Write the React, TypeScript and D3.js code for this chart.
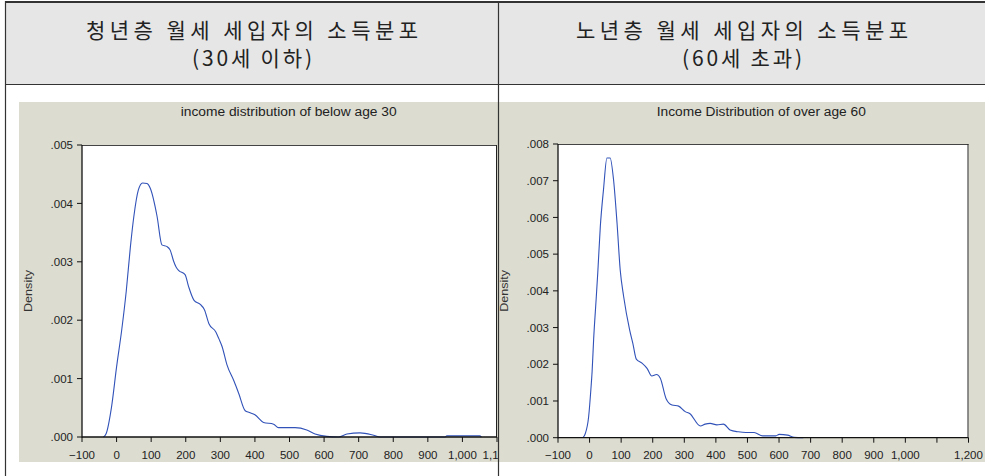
import React from "react";
import * as d3 from "d3";

// ---------- data ----------
const youngIncome = [-38, -30, -15, 0, 15, 28, 40, 50, 63, 75, 88, 98, 117, 131, 146, 155, 165, 172, 180, 198, 208, 224, 242, 254, 267, 287, 296, 305, 319, 340, 353, 372, 384, 400, 425, 454, 468, 516, 550, 574, 608, 642, 666, 704, 743, 762, 950, 955, 1050, 1055];
const youngDensity = [0, 0.00006, 0.0005, 0.0012, 0.00184, 0.0025, 0.00326, 0.00378, 0.00423, 0.00435, 0.00434, 0.00425, 0.00378, 0.00329, 0.00326, 0.0032, 0.00301, 0.00291, 0.00285, 0.00278, 0.00258, 0.00234, 0.00227, 0.00218, 0.00194, 0.0018, 0.00168, 0.00155, 0.00124, 0.00095, 0.00075, 0.00045, 0.00042, 0.00038, 0.00025, 0.00022, 0.00016, 0.00016, 0.00012, 0.00005, 0.00001, 0, 0.00005, 0.00007, 0.00003, 0, 0, 0.00002, 0.00002, 0];

const oldIncome = [-21, -14, -3, 4, 8, 13, 21, 26, 34, 44, 55, 65, 76, 87, 97, 108, 127, 137, 148, 166, 182, 197, 212, 224, 242, 261, 282, 303, 317, 351, 366, 382, 403, 424, 445, 471, 495, 521, 548, 590, 600, 627, 648, 677];
const oldDensity = [0, 0.0001, 0.00057, 0.0013, 0.0018, 0.0027, 0.0038, 0.0045, 0.00575, 0.00675, 0.00762, 0.00762, 0.00702, 0.00584, 0.00457, 0.00384, 0.00293, 0.00257, 0.00214, 0.00203, 0.00189, 0.00168, 0.00172, 0.00162, 0.00107, 0.00089, 0.00086, 0.00071, 0.00066, 0.00032, 0.00037, 0.00039, 0.00035, 0.00037, 0.00021, 0.00016, 0.00014, 0.00014, 0.00005, 0.00005, 0.00009, 0.00007, 0.00001, 0];

const youngXTicks = [-100, 0, 100, 200, 300, 400, 500, 600, 700, 800, 900, 1000, 1100];
const youngYTicks = [0, 0.001, 0.002, 0.003, 0.004, 0.005];
const oldXTicks = [-100, 0, 100, 200, 300, 400, 500, 600, 700, 800, 900, 1000, 1100, 1200];
const oldXHiddenLabels = [1100];
const oldYTicks = [0, 0.001, 0.002, 0.003, 0.004, 0.005, 0.006, 0.007, 0.008];

const headerLine1 = ["청년층 월세 세입자의 소득분포", "노년층 월세 세입자의 소득분포"];
const headerLine2 = ["(30세 이하)", "(60세 초과)"];
const chartTitles = ["income distribution of below age 30", "Income Distribution of over age 60"];
const yAxisLabel = "Density";

// ---------- chart ----------
const fmtX = d3.format(",");
const fmtY = (v: number) => d3.format(".3f")(v).replace(/^0/, "");
const tickFont = "'Liberation Sans', Arial, sans-serif";

type ChartProps = {
  id: string;
  panel: { x: number; y: number; w: number; h: number };
  plot: { l: number; t: number; r: number; b: number };
  xDomain: [number, number];
  yDomain: [number, number];
  xTicks: number[];
  hidden: number[];
  yTicks: number[];
  title: string;
  titleX: number;
  titleLen: number;
  densX: number;
  xs: number[];
  ys: number[];
  clipRight: number;
};

function Chart(p: ChartProps) {
  const x = d3.scaleLinear().domain(p.xDomain).range([p.plot.l, p.plot.r]);
  const y = d3.scaleLinear().domain(p.yDomain).range([p.plot.b, p.plot.t]);
  const pts = p.xs.map((v, i) => [v, p.ys[i]] as [number, number]);
  const line = d3
    .line<[number, number]>()
    .x((d) => x(d[0]))
    .y((d) => y(d[1]))
    .curve(d3.curveMonotoneX);
  const cy = (p.plot.t + p.plot.b) / 2;
  return (
    <g clipPath={`url(#${p.id})`}>
      <defs>
        <clipPath id={p.id}>
          <rect x={p.panel.x} y={p.panel.y} width={p.clipRight - p.panel.x} height={p.panel.h} />
        </clipPath>
      </defs>
      <rect x={p.panel.x} y={p.panel.y} width={p.panel.w} height={p.panel.h} fill="#dcdcd0" />
      <text
        x={p.titleX}
        y={116}
        textAnchor="middle"
        fontFamily={tickFont}
        fontSize={12}
        fill="#222"
        textLength={p.titleLen}
        lengthAdjust="spacingAndGlyphs"
      >
        {p.title}
      </text>
      <text
        transform={`translate(${p.densX},${cy}) rotate(-90)`}
        textAnchor="middle"
        fontFamily={tickFont}
        fontSize={11.5}
        fill="#333"
        textLength={42}
        lengthAdjust="spacingAndGlyphs"
      >
        {yAxisLabel}
      </text>
      <rect x={p.plot.l} y={p.plot.t} width={p.plot.r - p.plot.l} height={p.plot.b - p.plot.t} fill="#fff" />
      <path d={line(pts) || ""} fill="none" stroke="#3152b8" strokeWidth={1.1} />
      {/* frame */}
      <line x1={p.plot.l} x2={p.plot.r} y1={p.plot.t + 0.5} y2={p.plot.t + 0.5} stroke="#444" strokeWidth={1} />
      <line x1={p.plot.r - 0.5} x2={p.plot.r - 0.5} y1={p.plot.t} y2={p.plot.b} stroke="#222" strokeWidth={1} />
      <line x1={p.plot.l} x2={p.plot.l} y1={p.plot.t} y2={p.plot.b + 0.5} stroke="#111" strokeWidth={1.3} />
      <line x1={p.plot.l} x2={p.plot.r} y1={p.plot.b} y2={p.plot.b} stroke="#111" strokeWidth={1.3} />
      {/* y ticks */}
      {p.yTicks.map((t) => (
        <g key={"y" + t}>
          <line x1={p.plot.l - 5} x2={p.plot.l} y1={y(t)} y2={y(t)} stroke="#111" strokeWidth={1} />
          <text
            x={p.plot.l - 9}
            y={y(t)}
            dy="0.36em"
            textAnchor="end"
            fontFamily={tickFont}
            fontSize={11.5}
            fill="#222"
          >
            {fmtY(t)}
          </text>
        </g>
      ))}
      {/* x ticks */}
      {p.xTicks.map((t) => (
        <g key={"x" + t}>
          <line x1={x(t)} x2={x(t)} y1={p.plot.b} y2={p.plot.b + 5} stroke="#111" strokeWidth={1} />
          {p.hidden.indexOf(t) < 0 && (
            <text
              x={x(t)}
              y={p.plot.b + 21.5}
              textAnchor="middle"
              fontFamily={tickFont}
              fontSize={11.5}
              fill="#222"
            >
              {fmtX(t)}
            </text>
          )}
        </g>
      ))}
    </g>
  );
}

export default function App() {
  const W = 985;
  const H = 476;
  const headerFont = "'Noto Sans CJK KR', 'Noto Sans CJK SC', sans-serif";
  const cellCenters = [252, 742];
  const line1Len = 332;
  const line2Len = 120;
  return (
    <svg
      width={W}
      height={H}
      style={{ position: "absolute", left: 0, top: 0, background: "#fff" }}
    >
      <rect x={0} y={0} width={W} height={H} fill="#fff" />
      {/* header */}
      <rect x={6} y={2} width={990} height={82} fill="#e6e6e6" />
      {headerLine1.map((t, i) => (
        <text
          key={"h1" + i}
          x={cellCenters[i]}
          y={38}
          textAnchor="middle"
          fontFamily={headerFont}
          fontSize={21}
          fill="#222"
          textLength={line1Len}
          lengthAdjust="spacing"
        >
          {t}
        </text>
      ))}
      {headerLine2.map((t, i) => (
        <text
          key={"h2" + i}
          x={cellCenters[i]}
          y={66}
          textAnchor="middle"
          fontFamily={headerFont}
          fontSize={21}
          fill="#222"
          textLength={line2Len}
          lengthAdjust="spacing"
        >
          {t}
        </text>
      ))}

      <Chart
        id="clipYoung"
        panel={{ x: 19, y: 102, w: 500, h: 360 }}
        plot={{ l: 82, t: 145, r: 497, b: 437 }}
        xDomain={[-100, 1100]}
        yDomain={[0, 0.005]}
        xTicks={youngXTicks}
        hidden={[]}
        yTicks={youngYTicks}
        title={chartTitles[0]}
        titleX={288.7}
        titleLen={216}
        densX={31.5}
        xs={youngIncome}
        ys={youngDensity}
        clipRight={498}
      />
      <Chart
        id="clipOld"
        panel={{ x: 499, y: 102, w: 486, h: 360 }}
        plot={{ l: 558, t: 144, r: 968.5, b: 437.7 }}
        xDomain={[-100, 1200]}
        yDomain={[0, 0.008]}
        xTicks={oldXTicks}
        hidden={oldXHiddenLabels}
        yTicks={oldYTicks}
        title={chartTitles[1]}
        titleX={761.3}
        titleLen={209}
        densX={507.5}
        xs={oldIncome}
        ys={oldDensity}
        clipRight={985}
      />

      {/* table borders */}
      <line x1={5} x2={W} y1={2} y2={2} stroke="#333" strokeWidth={2} />
      <line x1={5.5} x2={5.5} y1={1} y2={H} stroke="#333" strokeWidth={1.2} />
      <line x1={5} x2={W} y1={84.5} y2={84.5} stroke="#333" strokeWidth={1.2} />
      <line x1={498.5} x2={498.5} y1={1} y2={H} stroke="#333" strokeWidth={1.2} />
    </svg>
  );
}
